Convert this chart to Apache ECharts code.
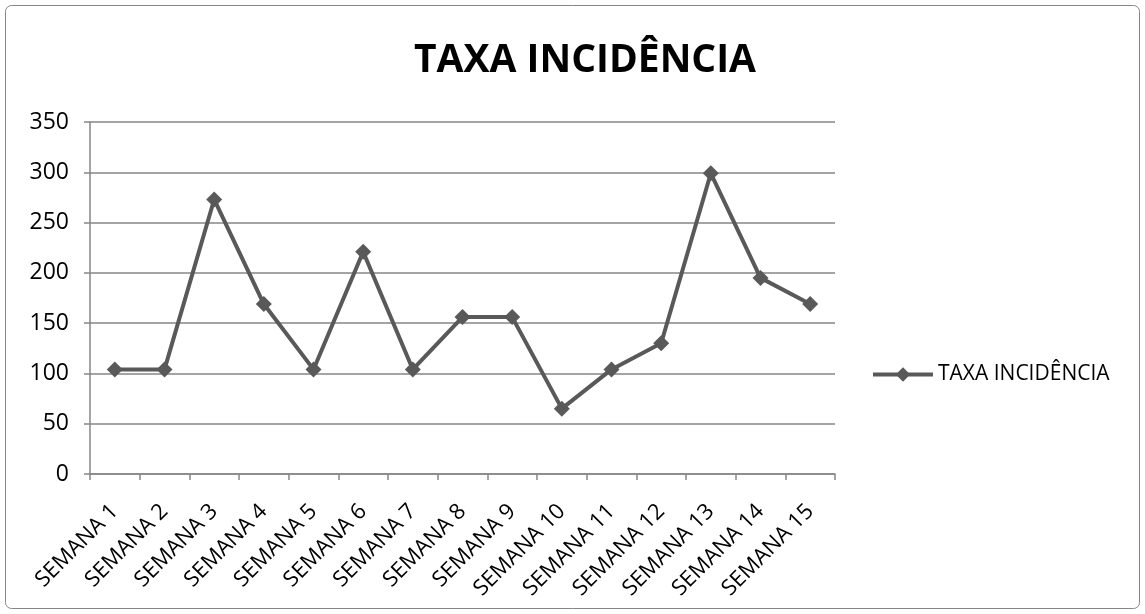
<!DOCTYPE html>
<html>
<head>
<meta charset="utf-8">
<script src="https://cdn.jsdelivr.net/npm/echarts@6/dist/echarts.min.js"></script>
<style>
  html, body { margin: 0; padding: 0; background: #fff; }
  #container { width: 1145px; height: 614px; }
</style>
</head>
<body>
<div id="container"></div>
<script>
// dados do gráfico
const semanas = ['SEMANA 1','SEMANA 2','SEMANA 3','SEMANA 4','SEMANA 5','SEMANA 6','SEMANA 7','SEMANA 8',
  'SEMANA 9','SEMANA 10','SEMANA 11','SEMANA 12','SEMANA 13','SEMANA 14','SEMANA 15'];
const taxa = [104, 104, 273, 169, 104, 221, 104, 156, 156, 65, 104, 130, 299, 195, 169];
const serieNome = 'TAXA INCIDÊNCIA';
const titulo = 'TAXA INCIDÊNCIA';

let myChart = echarts.init(document.getElementById('container'));
myChart.setOption({
  animation: false,
  textStyle: { fontFamily: 'Open Sans' },
  graphic: [{
    type: 'rect',
    shape: { x: 5.5, y: 5.5, width: 1134, height: 603, r: 6 },
    style: { fill: 'none', stroke: '#868686', lineWidth: 1 },
    silent: true
  }],
  title: {
    text: titulo,
    left: 580,
    top: 36,
    textAlign: 'center',
    textStyle: { fontSize: 39, fontWeight: 'bold', color: '#000', fontFamily: 'Open Sans' }
  },
  legend: {
    left: 866,
    top: 359,
    itemWidth: 60,
    itemHeight: 18,
    itemGap: 0,
    lineStyle: { width: 4, color: '#595959' },
    textStyle: { fontSize: 21, color: '#000', padding: [0, 0, 0, 0] },
    data: [serieNome]
  },
  grid: { left: 90, right: 310, top: 122, bottom: 140 },
  xAxis: {
    type: 'category',
    data: semanas,
    boundaryGap: true,
    axisLine: { lineStyle: { color: '#868686', width: 1.5 } },
    axisTick: { show: true, length: 6, alignWithLabel: false, lineStyle: { color: '#868686', width: 1.5 } },
    axisLabel: {
      interval: 0,
      rotate: 45,
      fontSize: 22,
      color: '#000',
      margin: 34
    }
  },
  yAxis: {
    type: 'value',
    min: 0,
    max: 350,
    interval: 50,
    axisLine: { show: true, lineStyle: { color: '#868686', width: 1.5 } },
    axisTick: { show: true, length: 6, lineStyle: { color: '#868686', width: 1.5 } },
    splitLine: { lineStyle: { color: '#868686', width: 1.5 } },
    axisLabel: { fontSize: 23, color: '#000', margin: 21 }
  },
  series: [{
    name: serieNome,
    type: 'line',
    data: taxa,
    symbol: 'diamond',
    symbolSize: 16,
    lineStyle: { color: '#595959', width: 4 },
    itemStyle: { color: '#595959' }
  }]
});
</script>
</body>
</html>
